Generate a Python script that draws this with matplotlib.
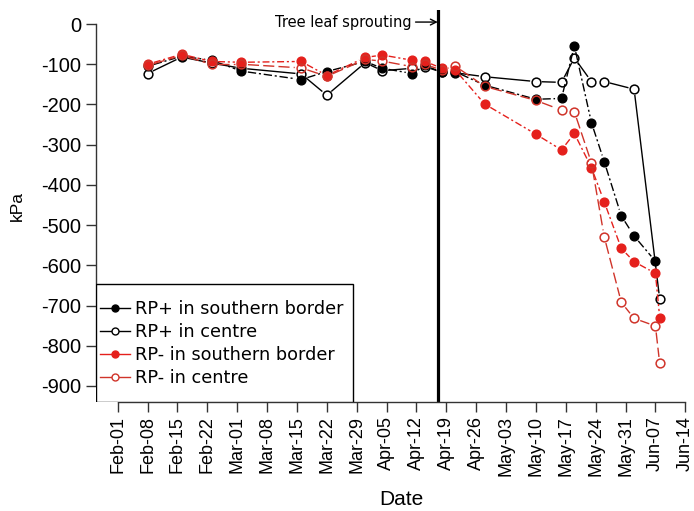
import matplotlib
matplotlib.use('Agg')
import matplotlib.pyplot as plt
import matplotlib.dates as mdates
from matplotlib.lines import Line2D
from matplotlib.patches import Rectangle
import numpy as np
import pandas as pd

YEAR = 2015

# RP+ in southern border
rpp_sb_dates = ['02-08', '02-16', '02-23', '03-02', '03-16', '03-22', '03-31', '04-04', '04-11',
                '04-14', '04-18', '04-21', '04-28', '05-10', '05-16', '05-19', '05-23', '05-26',
                '05-30', '06-02', '06-07']
rpp_sb_kpa = [-105, -80, -90, -117, -138, -118, -93, -110, -123, -103, -120, -118, -152, -187,
              -185, -54, -245, -342, -477, -527, -590]

# RP+ in centre
rpp_c_dates = ['02-08', '02-16', '02-23', '03-02', '03-16', '03-22', '03-31', '04-04', '04-11',
               '04-14', '04-18', '04-21', '04-28', '05-10', '05-16', '05-19', '05-23', '05-26',
               '06-02', '06-08']
rpp_c_kpa = [-123, -82, -97, -110, -124, -177, -96, -116, -110, -106, -120, -121, -131, -143,
             -145, -84, -143, -143, -162, -684]

# RP- in southern border
rpm_sb_dates = ['02-08', '02-16', '02-23', '03-02', '03-16', '03-22', '03-31', '04-04', '04-11',
                '04-14', '04-18', '04-21', '04-28', '05-10', '05-16', '05-19', '05-23', '05-26',
                '05-30', '06-02', '06-07', '06-08']
rpm_sb_kpa = [-100, -75, -93, -95, -93, -128, -83, -77, -90, -93, -110, -113, -199, -274,
              -313, -272, -357, -442, -558, -591, -620, -730]

# RP- in centre
rpm_c_dates = rpm_sb_dates
rpm_c_kpa = [-103, -78, -100, -100, -109, -130, -88, -92, -106, -100, -115, -104, -155, -190,
             -214, -218, -345, -529, -692, -732, -751, -844]

leaf_date = '04-17'
first_tick = '02-01'
last_tick = '06-14'
yticks = np.arange(0, -1000, -100)


def to_num(md):
    return mdates.date2num(pd.to_datetime([f'{YEAR}-{d}' for d in md]))


def draw_gapped(ax, x, y, gap, **kw):
    # R type="b": line segments stop short of the points
    pts = ax.transData.transform(np.column_stack([x, y]))
    inv = ax.transData.inverted()
    for p0, p1 in zip(pts[:-1], pts[1:]):
        d = p1 - p0
        L = np.hypot(*d)
        if L <= 2 * gap:
            continue
        u = d / L
        a = inv.transform(p0 + u * gap)
        b = inv.transform(p1 - u * gap)
        ax.plot([a[0], b[0]], [a[1], b[1]], **kw)


red = '#e5201c'
red_open = '#d0342a'
series = [
    (rpp_sb_dates, rpp_sb_kpa, 'black', True, (0, (6, 2, 1.5, 2)), 'RP+ in southern border'),
    (rpp_c_dates, rpp_c_kpa, 'black', False, '-', 'RP+ in centre'),
    (rpm_sb_dates, rpm_sb_kpa, red, True, (0, (5, 2, 1.5, 2)), 'RP- in southern border'),
    (rpm_c_dates, rpm_c_kpa, red_open, False, (0, (8, 3)), 'RP- in centre'),
]

fig = plt.figure(figsize=(6.94, 5.11), dpi=100)
ax = fig.add_axes([95.5 / 694, 109 / 511, 612 / 694, 392 / 511])

t0, t1 = to_num([first_tick, last_tick])
ax.set_xlim(t0 - 5.2, t1 + 5.2)
ax.set_ylim(-940, 35)

handles = []
for dates, vals, col, filled, ls, lab in series:
    x = to_num(dates)
    draw_gapped(ax, x, vals, 6.5, color=col, lw=1.0, ls=ls)
    if filled:
        ax.plot(x, vals, 'o', color=col, ms=6.3, mec=col, ls='none')
    else:
        ax.plot(x, vals, 'o', mfc='none', mec=col, mew=1.1, ms=6.3, ls='none')
    handles.append(Line2D([], [], color=col, lw=1.0, marker='o', ms=5,
                          mfc=col if filled else 'white', mec=col, mew=1.0, label=lab))

# tree leaf sprouting line
xl = to_num([leaf_date])[0]
ax.axvline(xl, color='black', lw=2.3)
ax.annotate('Tree leaf sprouting', xy=(xl, 5), xytext=(-19, 0), textcoords='offset points',
            ha='right', va='center', fontsize=10.5, family='DejaVu Sans',
            arrowprops=dict(arrowstyle='->', lw=1.0, color='black', shrinkA=1, shrinkB=0))

# axes styling, R-like
for s in ['top', 'right']:
    ax.spines[s].set_visible(False)
ax.spines['left'].set_bounds(-900, 0)
ax.spines['bottom'].set_bounds(t0, t1)
for s in ['left', 'bottom']:
    ax.spines[s].set_linewidth(1.0)
    ax.spines[s].set_color('#333333')

ax.set_yticks(yticks)
ax.set_yticklabels([str(v) for v in yticks], fontsize=14.5, family='Liberation Sans')
xt = mdates.drange(pd.Timestamp(f'{YEAR}-{first_tick}'), pd.Timestamp(f'{YEAR}-{last_tick}') + pd.Timedelta(days=1),
                   pd.Timedelta(days=7))
ax.set_xticks(xt)
ax.set_xticklabels([mdates.num2date(v).strftime('%b-%d') for v in xt], rotation=90,
                   fontsize=13, family=['Liberation Sans Narrow', 'Liberation Sans'])
ax.tick_params(axis='both', direction='out', length=7, width=1.0, color='#333333', pad=3)

ax.set_ylabel('kPa', fontsize=12.5, family=['Liberation Sans Narrow', 'Liberation Sans'], labelpad=12)
ax.set_xlabel('Date', fontsize=15, family=['Liberation Sans Narrow', 'Liberation Sans'], labelpad=10)

# legend box like R's: wide vertical padding, tight at the sides
ax.add_patch(Rectangle((0, 0), 0.421, 0.301, transform=ax.transAxes, facecolor='white',
                       edgecolor='black', lw=1.0, zorder=4))
leg = ax.legend(handles=handles, loc='upper left', bbox_to_anchor=(0.007, 0.259), borderaxespad=0,
                frameon=False, prop={'family': 'DejaVu Sans', 'size': 12.7},
                handlelength=1.7, handletextpad=0.28, labelspacing=0.27, borderpad=0)
leg.set_zorder(5)

fig.savefig('out.png', dpi=100)
